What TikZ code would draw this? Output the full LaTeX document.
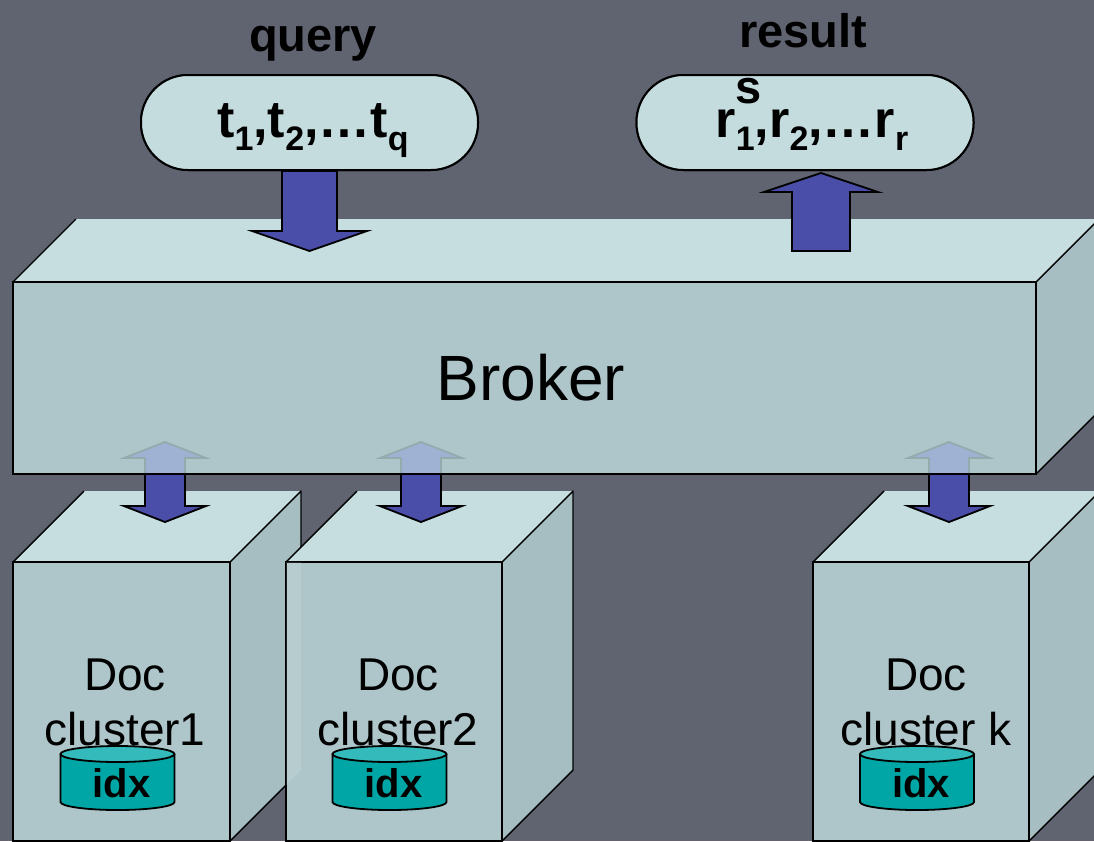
\documentclass[tikz,border=0pt]{standalone}
\usepackage{fontspec}
\setmainfont{Liberation Sans}
\usetikzlibrary{calc}
\definecolor{bgc}{RGB}{95,100,112}
\definecolor{topc}{RGB}{198,222,224}
\definecolor{frontc}{RGB}{174,197,201}
\definecolor{sidec}{RGB}{166,190,194}
\definecolor{pillc}{RGB}{196,220,222}
\definecolor{arrowc}{RGB}{74,78,168}
\definecolor{fadedc}{RGB}{160,178,212}
\definecolor{fadedline}{RGB}{148,170,172}
\definecolor{tealbody}{RGB}{0,166,166}
\definecolor{tealtop}{RGB}{52,186,186}
\newcommand\cuboid[5]{%
  \fill[topc] (#1,#3) -- (#1+#5,#3-#5) -- (#2+#5,#3-#5) -- (#2,#3) -- cycle;
  \fill[sidec] (#2,#3) -- (#2+#5,#3-#5) -- (#2+#5,#4-#5) -- (#2,#4) -- cycle;
  \draw[edgeline] (#1,#3) -- (#1+#5,#3-#5);
  \draw[edgeline] (#2,#3) -- (#2+#5,#3-#5) -- (#2+#5,#4-#5) -- (#2,#4);
  \draw[frontline] (#1,#3) rectangle (#2,#4);}
\newcommand\cyl[1]{%
  \fill[tealbody] (#1-57,754) -- (#1-57,802) arc[start angle=180,end angle=360,x radius=57pt,y radius=8pt] -- (#1+57,754) -- cycle;
  \draw[cylline] (#1-57,754) -- (#1-57,802) arc[start angle=180,end angle=360,x radius=57pt,y radius=8pt] -- (#1+57,754);
  \draw[cylline, fill=tealtop] (#1,754) ellipse[x radius=57pt, y radius=8pt];}
\newcommand\sbx[1]{\raisebox{-13pt}{\fontsize{34}{34}\selectfont #1}}
\begin{document}
\begin{tikzpicture}[x=1pt,y=-1pt,
  edgeline/.style={line width=1.4pt, black, line join=round},
  frontline/.style={line width=2.2pt, black, fill=frontc, line join=miter},
  cylline/.style={line width=1.8pt, black},
  blockarrow/.style={fill=arrowc, draw=black, line width=1.8pt, line join=miter},
  fadedarrow/.style={fill=fadedc, draw=fadedline, line width=1.8pt, line join=miter},
  pill/.style={draw=black, line width=2pt, fill=pillc, rounded corners=47pt, minimum width=337pt, minimum height=95pt, inner sep=0pt},
  headtxt/.style={font=\bfseries\fontsize{47}{47}\selectfont, anchor=base, inner sep=0pt},
  pilltxt/.style={font=\bfseries\fontsize{52}{52}\selectfont, anchor=base, inner sep=0pt},
  doctxt/.style={font=\fontsize{46}{46}\selectfont, anchor=base, inner sep=0pt},
  idxtxt/.style={font=\bfseries\fontsize{40}{40}\selectfont, anchor=base, inner sep=0pt}]
\useasboundingbox (0,0) rectangle (1094,841);
\fill[bgc] (0,0) rectangle (1094,841);
\begin{scope}
\clip (0,0) rectangle (1094,841);
% document clusters
\cuboid{13}{230}{562}{841}{71}
\cuboid{286}{502}{562}{841}{71}
\begin{scope}
  \clip (286,562) rectangle (502,841);
  \fill[white, opacity=0.12] (230,562) -- (301,491) -- (301,770) -- (230,841) -- cycle;
\end{scope}
\cuboid{813}{1029}{562}{841}{71}
\node[doctxt] (d1a) at (125,690) {Doc};
\node[doctxt] (d1b) at (125,745) {cluster1};
\node[doctxt] (d2a) at (398,690) {Doc};
\node[doctxt] (d2b) at (398,745) {cluster2};
\node[doctxt] (dka) at (926,690) {Doc};
\node[doctxt] (dkb) at (926,745) {cluster k};
\cyl{117.5}
\cyl{389.5}
\cyl{917}
\node[idxtxt] (i1) at (121.5,797) {idx};
\node[idxtxt] (i2) at (393.5,797) {idx};
\node[idxtxt] (ik) at (921,797) {idx};
% broker
\cuboid{13}{1036}{282}{474}{63}
\node[font=\fontsize{64}{64}\selectfont, anchor=base, inner sep=0pt] (broker) at (531,400) {Broker};
% broker <-> cluster arrows
\coordinate (a1) at (165,442);
\coordinate (a2) at (421,442);
\coordinate (ak) at (949,442);
\foreach \c in {a1,a2,ak}{
  \path[fadedarrow] (\c) -- ++(41,16) -- ++(-21,0) -- ++(0,48) -- ++(21,0) -- ($(\c)+(0,80)$) -- ++(-41,-16) -- ++(21,0) -- ++(0,-48) -- ++(-21,0) -- cycle;
  \begin{scope}
    \clip (0,474) rectangle (1094,841);
    \path[blockarrow] (\c) -- ++(41,16) -- ++(-21,0) -- ++(0,48) -- ++(21,0) -- ($(\c)+(0,80)$) -- ++(-41,-16) -- ++(21,0) -- ++(0,-48) -- ++(-21,0) -- cycle;
  \end{scope}
  \draw[line width=2.2pt] ($(\c)+(-22,32)$) -- ++(44,0);
}
% query / result
\node[pill] (q) at (309.5,122.5) {};
\node[pill] (r) at (805,122.5) {};
\path[blockarrow] ($(q.south)+(-27.5,0)$) -- ++(0,60) -- ++(-30,0) -- ($(q.south)+(0,80)$) -- ++(57.5,-20) -- ++(-30,0) -- ++(0,-60) -- cycle;
\path[blockarrow] ($(r.south)+(16,2)$) -- ++(57,19) -- ++(-28,0) -- ++(0,59) -- ++(-58,0) -- ++(0,-59) -- ++(-28,0) -- cycle;
\node[pill] at (q) {};
\node[pill] at (r) {};
\node[pilltxt] (qt) at (313,137) {t\sbx{1},t\sbx{2},…t\sbx{q}};
\node[pilltxt] (rt) at (812,137) {r\sbx{1},r\sbx{2},…r\sbx{r}};
\node[headtxt] (query) at (313,51) {query};
\node[headtxt] (result) at (803,47) {result};
\node[headtxt] (s) at (749,103) {s};
\end{scope}
\end{tikzpicture}
\end{document}
